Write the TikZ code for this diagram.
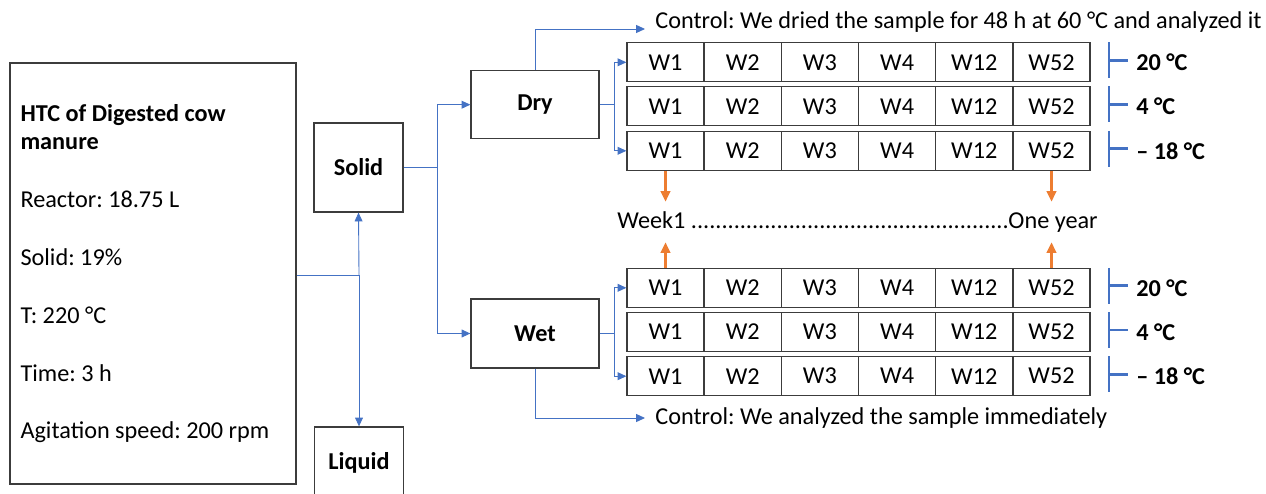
\documentclass[tikz,border=0pt]{standalone}
\usepackage{fontspec}
\setmainfont{Carlito}
\usetikzlibrary{arrows.meta,positioning,calc}
\definecolor{flowblue}{RGB}{68,114,196}
\definecolor{timeorange}{RGB}{237,125,49}
\definecolor{boxgray}{RGB}{60,60,60}
\frenchspacing

\begin{document}
\begin{tikzpicture}[
			x=0.02cm, y=-0.02cm,
			every node/.style={font=\fontsize{13.8}{16.4}\selectfont},
			box/.style={
				draw=boxgray,
				line width=0.75pt,
				inner sep=0pt,
				font=\fontsize{13.8}{16.4}\selectfont\bfseries
			},
			cell/.style={
				draw=boxgray,
				line width=0.75pt,
				minimum width=1.54cm,
				minimum height=0.78cm,
				inner sep=0pt
			},
			temp/.style={anchor=west, inner xsep=4.5pt, font=\fontsize{13.8}{16.4}\selectfont\bfseries},
			line/.style={flowblue, line width=0.5pt},
			flow/.style={-{Triangle[length=5pt,width=4.5pt]}, flowblue, line width=0.5pt},
			timeline/.style={-{Triangle[length=6pt,width=5.5pt]}, timeorange, line width=1.2pt},
			brace/.style={flowblue, line width=1.6pt}
			]
			\clip (0,0) rectangle (1266,493);
			
			% process description
			\node[box, font=\fontsize{13.8}{16.4}\selectfont, minimum width=5.72cm, minimum height=8.42cm,
				text width=5.3cm, align=flush left] (htc) at (153,273.5)
				{\textbf{HTC of Digested cow}\\\textbf{manure}\\[16.5pt]
				 Reactor: 18.75 L\\[16.5pt]
				 Solid: 19\%\\[16.5pt]
				 T: 220 °C\\[16.5pt]
				 Time: 3 h\\[16.5pt]
				 Agitation speed: 200 rpm};
			
			\node[box, minimum width=1.78cm, minimum height=1.78cm] (solid) at (358.5,167.5) {Solid};
			\node[box, minimum width=1.78cm, minimum height=1.44cm] (liquid) at (359,463) {Liquid};
			\node[box, minimum width=2.56cm, minimum height=1.36cm] (dry) at (535,104.7) {Dry};
			\node[box, minimum width=2.56cm, minimum height=1.38cm] (wet) at (535,333.5) {Wet};
			
			% storage weeks
			\foreach \w [count=\i] in {W1,W2,W3,W4,W12,W52} {
				\foreach \r/\y in {d1/62.3, d2/106.3, d3/150.8, e1/287.8, e2/332, e3/376.2}
					\node[cell] (\r-\i) at ({665.5+77.2*(\i-1)},\y) {\w};
			}
			
			% storage temperatures
			\foreach \r/\y/\t in {d1/62.3/20, d2/106.3/4, d3/150.8/– 18, e1/287.8/20, e2/332/4, e3/376.2/– 18} {
				\node[temp] (t-\r) at (1128,\y) {\t{} °C};
				\draw[brace] (1109,\y-20) -- (1109,\y+16);
				\draw[brace] (1109,\y-2) -- (t-\r.west |- 0,\y-2);
			}
			
			\node[anchor=west, inner xsep=5.7pt] (ctrl-dry) at (645,22)
				{Control: We dried the sample for 48 h at 60 °C and analyzed it};
			\node[anchor=west, inner xsep=5.7pt] (ctrl-wet) at (645,418)
				{Control: We analyzed the sample immediately};
			\node[anchor=west, inner sep=0pt, minimum height=0.8cm] (week) at (617,222)
				{Week1 ....................................................One year};
			
			\coordinate (split) at (359,275);
			\coordinate (fork) at (437,167.5);
			\coordinate (dfork) at (614,104.7);
			\coordinate (efork) at (614,333.5);
			
			\draw[line] (htc.east |- split) -- (split);
			\draw[flow] (split) -- (solid.south);
			\draw[flow] (split) -- (liquid.north);
			
			\draw[line] (solid.east) -- (fork);
			\draw[flow] (fork) |- (dry.west);
			\draw[flow] (fork) |- (wet.west);
			
			\draw[line] (dry.east) -- (dfork);
			\draw[flow] (dfork) |- (d1-1.west);
			\draw[flow] (dfork) |- (d3-1.west);
			\draw[line] (wet.east) -- (efork);
			\draw[flow] (efork) |- (e1-1.west);
			\draw[flow] (efork) |- (e3-1.west);
			
			\draw[flow] (dry.north) |- ([yshift=-0.14cm]ctrl-dry.west);
			\draw[flow] (wet.south) |- (ctrl-wet.west);
			
			\draw[timeline] (d3-1.south) -- (d3-1.south |- week.north);
			\draw[timeline] (d3-6.south) -- (d3-6.south |- week.north);
			\draw[timeline] (e1-1.north) -- (e1-1.north |- week.south);
			\draw[timeline] (e1-6.north) -- (e1-6.north |- week.south);
			
		\end{tikzpicture}
\end{document}
